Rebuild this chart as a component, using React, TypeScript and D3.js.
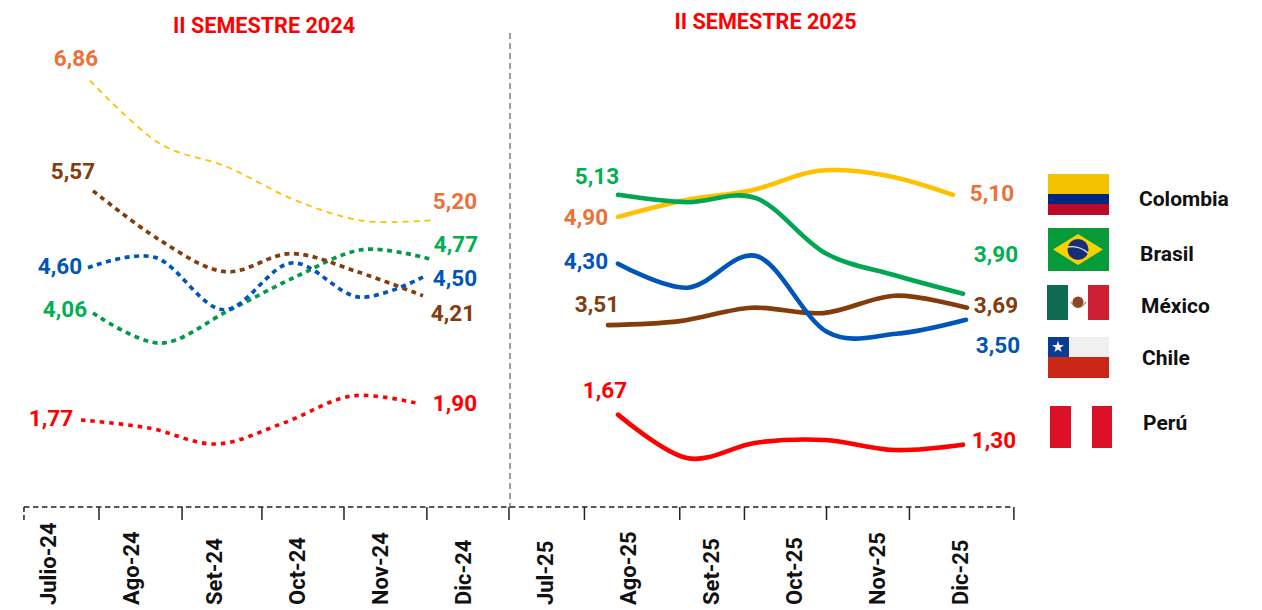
import React from "react";
import * as d3 from "d3";

// ---------- data ----------
const months2024 = ["Julio-24", "Ago-24", "Set-24", "Oct-24", "Nov-24", "Dic-24"];
const months2025 = ["Jul-25", "Ago-25", "Set-25", "Oct-25", "Nov-25", "Dic-25"];
const countries = ["Colombia", "Brasil", "México", "Chile", "Perú"];

const colombia2024 = [6.85, 5.92, 5.56, 5.06, 4.75, 4.76];
const brasil2024 = [3.37, 2.92, 3.4, 3.91, 4.32, 4.18];
const mexico2024 = [5.2, 4.47, 3.99, 4.26, 3.99, 3.63];
const chile2024 = [4.05, 4.2, 3.42, 4.12, 3.61, 3.94];
const peru2024 = [1.77, 1.65, 1.41, 1.73, 2.13, 2.01];

const colombia2025 = [4.81, 5.06, 5.21, 5.5, 5.43, 5.14];
const brasil2025 = [5.14, 5.03, 5.09, 4.27, 3.94, 3.66];
const mexico2025 = [3.19, 3.25, 3.45, 3.37, 3.63, 3.45];
const chile2025 = [4.11, 3.75, 4.22, 3.09, 3.06, 3.27];
const peru2025 = [1.85, 1.2, 1.43, 1.47, 1.32, 1.4];

const startLabels2024 = ["6,86", "4,06", "5,57", "4,60", "1,77"];
const endLabels2024 = ["5,20", "4,77", "4,21", "4,50", "1,90"];
const startLabels2025 = ["4,90", "5,13", "3,51", "4,30", "1,67"];
const endLabels2025 = ["5,10", "3,90", "3,69", "3,50", "1,30"];

// axis tick boundaries, in month units (0 = Julio-24)
const tickMonths = [-0.29, 0.615, 1.617, 2.58, 3.57, 4.57, 5.56, 6.47, 7.62, 8.4, 9.39, 10.39, 11.65];

// ---------- styles / layout ----------
const FONT = "Roboto, 'Noto Sans', sans-serif";
const lineColors = ["#FFC000", "#00A651", "#843C0C", "#0055B8", "#FF0000"];
const labelColors = ["#ED7038", "#00B050", "#843C0C", "#0055B8", "#FF0000"];
const dark2024Green = "#009A49";

const spans2024 = [[90, 432], [93, 430], [93, 423], [88, 427], [81, 420]];
const spans2025 = [[618, 953], [618, 963], [608, 967], [618, 966], [618, 963]];
const startPos2024 = [[76, 58], [65, 309], [73, 171], [60, 266], [51, 418]];
const endPos2024 = [[455, 201], [456, 244], [453, 313], [455, 278], [455, 403]];
const startPos2025 = [[586, 217], [597, 176], [597, 304], [586, 261], [605, 390]];
const endPos2025 = [[992, 193], [996, 254], [996, 305], [998, 345], [994, 440]];
const dashes2024 = [[6, 5], [5, 4.5], [5, 4.5], [5, 4.5], [4.5, 5]];
const widths2024 = [1.8, 3.7, 3.7, 3.7, 3.6];

const yScale = d3.scaleLinear().domain([0, 7]).range([538.2, 70.6]);
const axisX = d3.scaleLinear().domain([0, 11]).range([48, 960]);
const lineGen = (xs: d3.ScaleLinear<number, number>) =>
  d3
    .line<number>()
    .x((_, i) => xs(i))
    .y((d) => yScale(d))
    .curve(d3.curveCatmullRom.alpha(0));

const series2024 = [colombia2024, brasil2024, mexico2024, chile2024, peru2024];
const series2025 = [colombia2025, brasil2025, mexico2025, chile2025, peru2025];

const ValueLabel = ({ p, text, color }: { p: number[]; text: string; color: string }) => (
  <text x={p[0]} y={p[1]} fill={color} fontFamily={FONT} fontWeight={700} fontSize={22.5} textAnchor="middle" dominantBaseline="central">
    {text}
  </text>
);

const legendRows = [
  { y: 199, x: 1139 },
  { y: 254, x: 1140 },
  { y: 306, x: 1141 },
  { y: 358, x: 1142 },
  { y: 423, x: 1143 },
];

const Flags = () => {
  const star = d3.symbol().type(d3.symbolStar).size(44)();
  return (
    <g>
      {/* Colombia */}
      <rect x={1048} y={174} width={61} height={20} fill="#F4C300" />
      <rect x={1048} y={194} width={61} height={10} fill="#00277F" />
      <rect x={1048} y={204} width={61} height={11} fill="#BC0A26" />
      {/* Brasil */}
      <rect x={1048} y={228} width={61} height={43} fill="#079A3A" />
      <polygon points="1053,249.5 1078,234 1103,249.5 1078,265" fill="#F5D300" />
      <circle cx={1078} cy={249.5} r={10.5} fill="#1A2B78" />
      <path d="M1068,247 Q1079,245 1088,253" fill="none" stroke="#D8E4D8" strokeWidth={1.4} />
      {/* México */}
      <rect x={1047} y={285} width={21} height={35} fill="#0F6B4F" />
      <rect x={1068} y={285} width={20} height={35} fill="#FFFFFF" />
      <rect x={1088} y={285} width={21} height={35} fill="#CE1F33" />
      <path d="M1071,302 Q1078,313 1086,302" fill="none" stroke="#A9AC78" strokeWidth={1.6} />
      <circle cx={1078} cy={302} r={5.5} fill="#8F4523" />
      {/* Chile */}
      <rect x={1048} y={337} width={61} height={20} fill="#F0F0F0" />
      <rect x={1048} y={337} width={21} height={20} fill="#0B3C94" />
      <rect x={1048} y={357} width={61} height={21} fill="#C92818" />
      <path d={star ?? ""} transform="translate(1058,347)" fill="#F4F4F4" />
      {/* Perú */}
      <rect x={1050} y={406} width={21} height={42} fill="#DC1127" />
      <rect x={1092} y={406} width={20} height={42} fill="#DC1127" />
    </g>
  );
};

export default function App() {
  const panel = (
    series: number[][],
    spans: number[][],
    dash: number[][] | null,
    widths: number[] | null,
    colors: string[]
  ) =>
    series.map((vals, i) => {
      const xs = d3.scaleLinear().domain([0, 5]).range(spans[i]);
      return (
        <path
          key={i}
          d={lineGen(xs)(vals) ?? ""}
          fill="none"
          stroke={colors[i]}
          strokeWidth={widths ? widths[i] : 4.6}
          strokeDasharray={dash ? dash[i].join(" ") : undefined}
          strokeLinecap={dash ? "butt" : "round"}
          strokeLinejoin="round"
        />
      );
    });

  const colors2024 = lineColors.map((c, i) => (i === 1 ? dark2024Green : c));
  const allMonths = [...months2024, ...months2025];

  return (
    <svg width={1262} height={610} style={{ position: "absolute", left: 0, top: 0, background: "#fff" }}>
      <text x={264} y={25} fill="#FF0000" fontFamily={FONT} fontWeight={700} fontSize={21.6} textAnchor="middle" dominantBaseline="central">
        II SEMESTRE 2024
      </text>
      <text x={765.5} y={21} fill="#FF0000" fontFamily={FONT} fontWeight={700} fontSize={21.6} textAnchor="middle" dominantBaseline="central">
        II SEMESTRE 2025
      </text>

      <line x1={510} x2={510} y1={33} y2={507} stroke="#7F7F7F" strokeWidth={1.5} strokeDasharray="6 4" />

      {/* axis */}
      <line x1={axisX(tickMonths[0])} x2={axisX(tickMonths[12])} y1={507} y2={507} stroke="#222" strokeWidth={1.5} strokeDasharray="5.5 3.5" />
      {tickMonths.map((m, i) => (
        <line
          key={i}
          x1={axisX(m)}
          x2={axisX(m)}
          y1={507}
          y2={520}
          stroke="#222"
          strokeWidth={1.5}
          strokeDasharray={i === 0 ? "5 3" : undefined}
        />
      ))}
      {allMonths.map((m, i) => (
        <text
          key={m}
          transform={`translate(${axisX(i) + 8},605) rotate(-90)`}
          fill="#111"
          fontFamily={FONT}
          fontWeight={700}
          fontSize={22}
        >
          {m}
        </text>
      ))}

      {panel(series2024, spans2024, dashes2024, widths2024, colors2024)}
      {panel(series2025, spans2025, null, null, lineColors)}

      {startLabels2024.map((t, i) => <ValueLabel key={"a" + i} p={startPos2024[i]} text={t} color={labelColors[i]} />)}
      {endLabels2024.map((t, i) => <ValueLabel key={"b" + i} p={endPos2024[i]} text={t} color={labelColors[i]} />)}
      {startLabels2025.map((t, i) => <ValueLabel key={"c" + i} p={startPos2025[i]} text={t} color={labelColors[i]} />)}
      {endLabels2025.map((t, i) => <ValueLabel key={"d" + i} p={endPos2025[i]} text={t} color={labelColors[i]} />)}

      <Flags />
      {countries.map((c, i) => (
        <text key={c} x={legendRows[i].x} y={legendRows[i].y} fill="#111" fontFamily={FONT} fontWeight={700} fontSize={21} dominantBaseline="central">
          {c}
        </text>
      ))}
    </svg>
  );
}
